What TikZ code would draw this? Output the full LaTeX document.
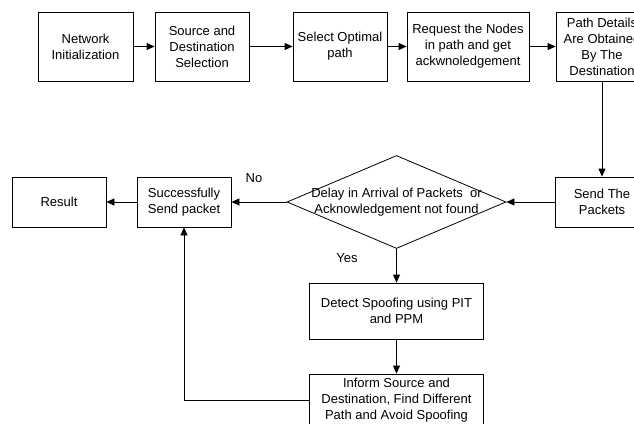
\documentclass[tikz,border=0pt]{standalone}
\usepackage{fontspec}
\setmainfont{Liberation Sans}
\usetikzlibrary{arrows.meta,shapes.geometric}

\begin{document}
\begin{tikzpicture}[x=1pt,y=-1pt,font=\fontsize{13}{16}\selectfont,
 box/.style={draw,line width=0.8pt,align=center,inner sep=1pt,minimum width=94pt,minimum height=69pt},
 low/.style={box,minimum height=50pt},
 wide/.style={box,minimum width=174pt,minimum height=56pt},
 dia/.style={draw,line width=0.8pt,diamond,inner sep=0pt,minimum width=219pt,minimum height=93pt},
 arr/.style={-{Triangle[length=8pt,width=7pt]},line width=0.8pt}]
 \useasboundingbox (0,0) rectangle (634,423);
 % top row
 \node[box,minimum width=95pt] (init) at (85.5,46.5){Network\\Initialization};
 \node[box] (srcdst) at (202,46.5){Source and\\Destination\\Selection};
 \node[box] (optim) at (340,46.5){Select Optimal\\path};
 \node[box,minimum width=122pt] (req) at (468,46.5){Request the Nodes\\in path and get\\ackwnoledgement};
 \node[box,minimum width=92pt] (pdet) at (602,46.5){Path Details\\Are Obtained\\By The\\Destination};
 % middle row
 \node[low] (res) at (59,202){Result};
 \node[low] (succ) at (184,202){Successfully\\Send packet};
 \node[dia] (dec) at (396.5,202){};
 \node[align=center] (dectxt) at (dec.center){Delay in Arrival of Packets\ \ or\\Acknowledgement not found};
 \node[low] (send) at (602,202){Send The\\Packets};
 \node (no) at (254,178){No};
 \node (yes) at (347,258){Yes};
 % bottom
 \node[wide] (spoof) at (396.5,311){Detect Spoofing using PIT\\and PPM};
 \node[wide,minimum height=52pt] (inform) at (396.5,400){Inform Source and\\Destination, Find Different\\Path and Avoid Spoofing};
 \draw[arr](init)--(srcdst); \draw[arr](srcdst)--(optim); \draw[arr](optim)--(req); \draw[arr](req)--(pdet);
 \draw[arr](pdet)--(send); \draw[arr](send)--(dec); \draw[arr](dec)--(succ); \draw[arr](succ)--(res);
 \draw[arr](dec)--(spoof); \draw[arr](spoof)--(inform);
 \draw[arr](inform.west)-|(succ.south);
\end{tikzpicture}
\end{document}
